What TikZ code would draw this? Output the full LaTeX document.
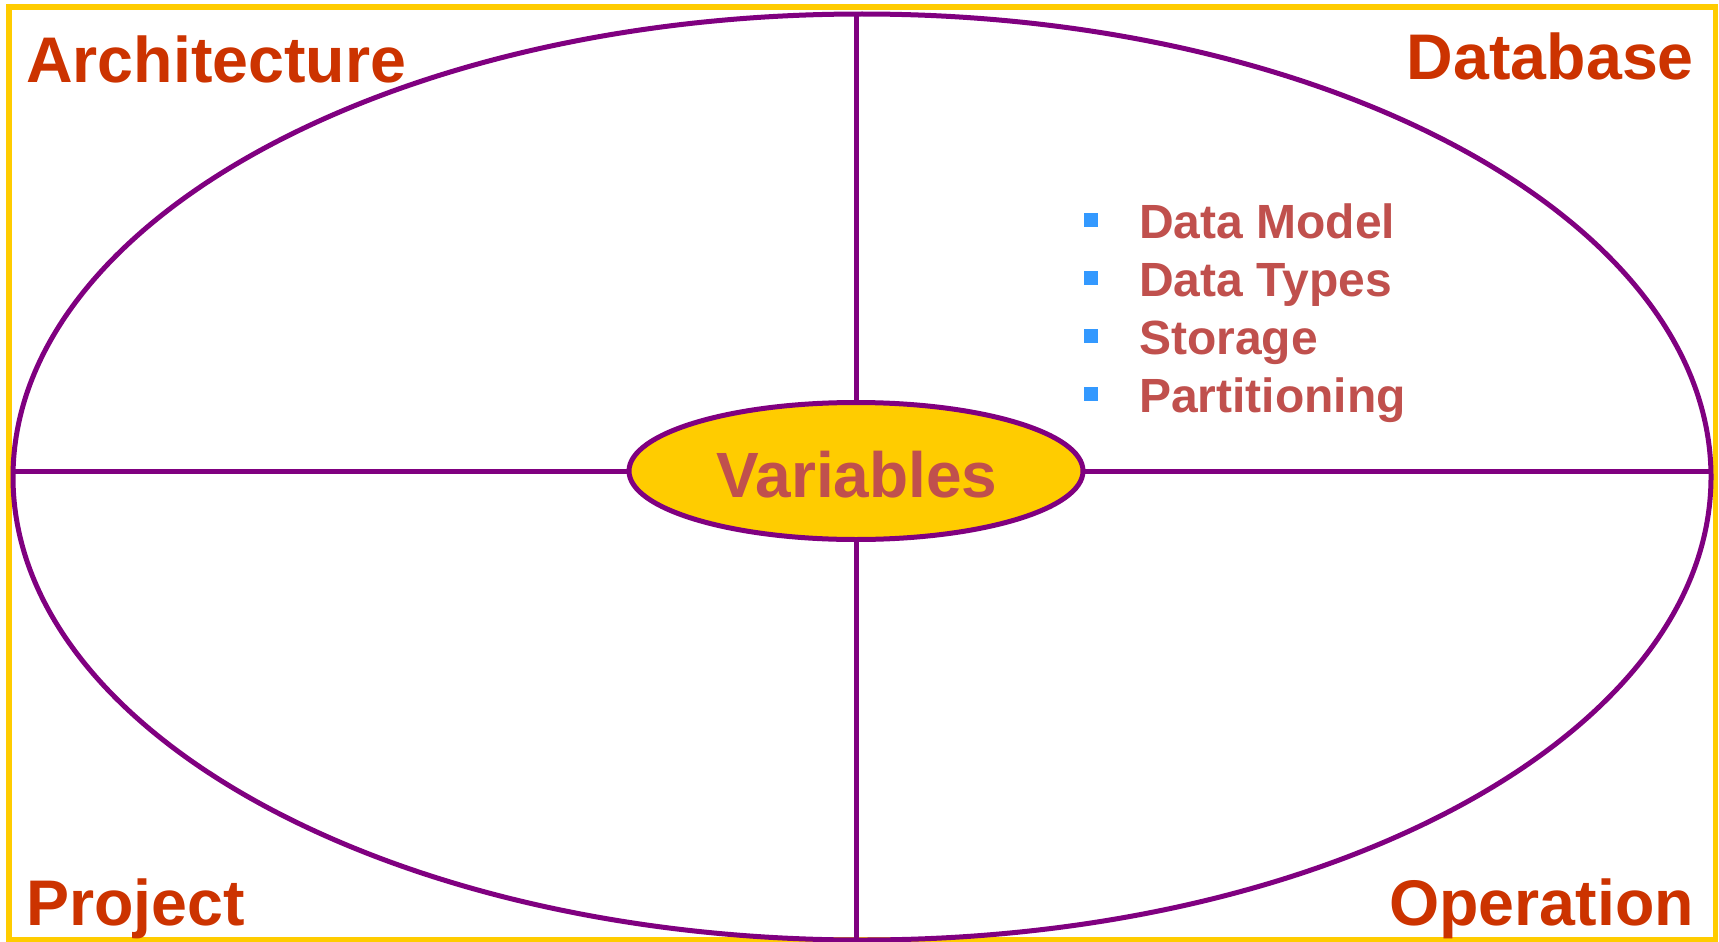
\documentclass[tikz,border=0pt]{standalone}
\usepackage{fontspec}
\setmainfont{Liberation Sans}
\usetikzlibrary{shapes.geometric}
\definecolor{framey}{HTML}{FFCC00}
\definecolor{purp}{HTML}{800080}
\definecolor{headred}{HTML}{CC3300}
\definecolor{bodyred}{HTML}{C0504D}
\definecolor{bulletblue}{HTML}{3399FF}
\tikzset{
  oval/.style={draw=purp, line width=5pt, ellipse, inner sep=0pt, outer sep=0pt},
  divider/.style={draw=purp, line width=5pt},
  heading/.style={text=headred, font=\fontsize{64.5}{70}\selectfont\bfseries, inner sep=0pt},
  item/.style={text=bodyred, font=\fontsize{48}{56}\selectfont\bfseries, inner sep=0pt, anchor=base west},
  bullet/.style={fill=bulletblue, minimum size=14pt, inner sep=0pt, outer sep=0pt},
}
\begin{document}
\begin{tikzpicture}[x=1pt,y=-1pt]
\useasboundingbox (0,0) rectangle (1719,942);
\fill[white] (0,0) rectangle (1719,942);
\draw[framey, line width=5.5pt] (9,7) rectangle (1715.5,940);
\node[oval, minimum width=1698pt, minimum height=926pt] (outer) at (862,477) {};
\node[oval, fill=framey, minimum width=454pt, minimum height=137pt] (inner) at (856,471) {};
\node[text=bodyred, font=\fontsize{64}{70}\selectfont\bfseries, inner sep=0pt, anchor=base] (var) at (857,497) {Variables};
\draw[divider] (inner.west) -- (inner.west -| outer.west);
\draw[divider] (inner.east) -- (inner.east -| outer.east);
\draw[divider] (inner.north) -- (inner.north |- outer.north);
\draw[divider] (inner.south) -- (inner.south |- outer.south);
\node[heading, anchor=base west] (arch) at (26,82) {Architecture};
\node[heading, anchor=base east] (db) at (1694,80) {Database};
\node[heading, anchor=base west] (proj) at (26,925) {Project};
\node[heading, anchor=base east] (oper) at (1694,925) {Operation};
\node[bullet] (b1) at (1091,220) {};
\node[bullet] (b2) at (1091,278) {};
\node[bullet] (b3) at (1091,336) {};
\node[bullet] (b4) at (1091,394) {};
\node[item] (t1) at (1139,238) {Data Model};
\node[item] (t2) at (1139,296) {Data Types};
\node[item] (t3) at (1139,354) {Storage};
\node[item] (t4) at (1139,412) {Partitioning};
\end{tikzpicture}
\end{document}
